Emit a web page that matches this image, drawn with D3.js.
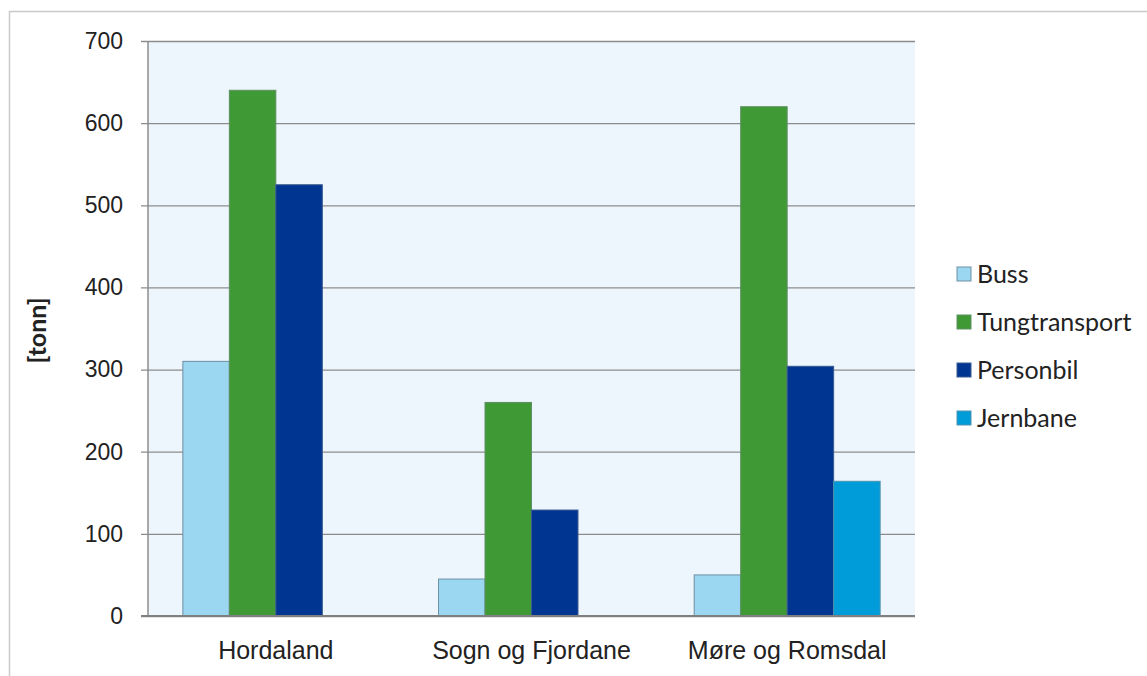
<!DOCTYPE html>
<html>
<head>
<meta charset="utf-8">
<script src="https://cdn.jsdelivr.net/npm/d3@7"></script>
<style>
  html, body { margin: 0; padding: 0; background: #fff; }
  svg { display: block; font-family: Lato, "Open Sans", sans-serif; }
</style>
</head>
<body>
<svg id="chart" width="1147" height="676"></svg>
<script>
// Emissions per county and transport mode
const regions = ["Hordaland", "Sogn og Fjordane", "Møre og Romsdal"];
const modes = ["Buss", "Tungtransport", "Personbil", "Jernbane"];
const buss = [310, 45, 50];
const tungtransport = [640, 260, 620];
const personbil = [525, 129, 304];
const jernbane = [0, 0, 164];
const yTicks = [0, 100, 200, 300, 400, 500, 600, 700];
const yLabel = "[tonn]";

const seriesValues = [buss, tungtransport, personbil, jernbane];
const colors = ["#9bd7f1", "#3f9a35", "#003591", "#009cd9"];
const strokes = ["#6f8fa3", "#5f8f62", "#3b5a8f", "#4f91b0"];

const svg = d3.select("#chart");
const W = 1147, H = 676;
const m = { left: 148, right: 915, top: 41, bottom: 616 };

// outer frame
svg.append("path")
  .attr("d", `M9.5,${H} V11.5 H${W}`)
  .attr("fill", "none").attr("stroke", "#c9c9c9").attr("stroke-width", 1.5);

const x0 = d3.scaleBand().domain(regions).range([m.left, m.right]).paddingInner(0).paddingOuter(0);
const y = d3.scaleLinear().domain([0, 700]).range([m.bottom, m.top]);
const bw = x0.bandwidth() / 5.5;
const x1 = d3.scaleBand().domain(modes).range([0, bw * 4]).padding(0);

// plot background
svg.append("rect")
  .attr("x", m.left).attr("y", m.top)
  .attr("width", m.right - m.left).attr("height", m.bottom - m.top)
  .attr("fill", "#eef6fd");

// gridlines
const yAxis = d3.axisLeft(y).tickValues(yTicks).tickSize(-(m.right - m.left)).tickPadding(25);
const gy = svg.append("g").attr("transform", `translate(${m.left},0)`).call(yAxis);
gy.select(".domain").remove();
gy.selectAll(".tick line").attr("stroke", "#8c8c8c").attr("stroke-width", 1.3).attr("x1", -7);
gy.selectAll(".tick text").attr("fill", "#222").style("font-size", "23px");

// left axis line
svg.append("line")
  .attr("x1", m.left).attr("x2", m.left).attr("y1", m.top).attr("y2", m.bottom)
  .attr("stroke", "#8c8c8c").attr("stroke-width", 1.5);

// bars
const data = [];
regions.forEach((r, i) => modes.forEach((s, j) => {
  if (seriesValues[j][i] > 0) data.push({ region: r, mode: s, j, value: seriesValues[j][i] });
}));

svg.append("g").selectAll("rect").data(data).join("rect")
  .attr("x", d => x0(d.region) + (x0.bandwidth() - bw * 4) / 2 + x1(d.mode))
  .attr("y", d => y(d.value))
  .attr("width", x1.bandwidth())
  .attr("height", d => y(0) - y(d.value))
  .attr("fill", d => colors[d.j])
  .attr("stroke", d => strokes[d.j])
  .attr("stroke-width", 1);

// baseline
svg.append("line")
  .attr("x1", m.left - 7).attr("x2", m.right).attr("y1", m.bottom).attr("y2", m.bottom)
  .attr("stroke", "#808080").attr("stroke-width", 2);

// category labels
const xAxis = d3.axisBottom(x0).tickSize(0).tickPadding(25);
const gx = svg.append("g").attr("transform", `translate(0,${m.bottom})`).call(xAxis);
gx.select(".domain").remove();
gx.selectAll(".tick text").attr("fill", "#222").style("font-size", "25px");

// y-axis title
svg.append("text")
  .attr("transform", `translate(46,${(m.top + m.bottom) / 2 + 2}) rotate(-90)`)
  .attr("text-anchor", "middle")
  .style("font-size", "25px").style("font-weight", "bold").attr("fill", "#222")
  .text(yLabel);

// legend
const lg = svg.append("g").attr("transform", "translate(957,274)");
modes.forEach((s, j) => {
  const g = lg.append("g").attr("transform", `translate(0,${j * 48})`);
  g.append("rect").attr("x", 0).attr("y", -7).attr("width", 14).attr("height", 14)
    .attr("fill", colors[j]).attr("stroke", strokes[j]).attr("stroke-width", 1);
  g.append("text").attr("x", 20).attr("y", 0).attr("dy", "0.35em")
    .style("font-size", "25px").attr("fill", "#222").text(s);
});
</script>
</body>
</html>
